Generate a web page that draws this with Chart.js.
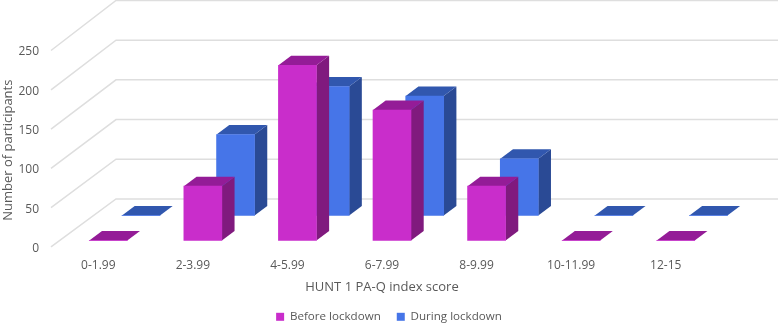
<!DOCTYPE html>
<html>
<head>
<meta charset="utf-8">
<title>HUNT 1 PA-Q</title>
<script src="https://cdn.jsdelivr.net/npm/chart.js@4"></script>
<style>
  html, body { margin: 0; padding: 0; background: #fff; }
  #wrap { width: 778px; height: 323px; }
</style>
</head>
<body>
<div id="wrap"><canvas id="myChart" width="778" height="323"></canvas></div>
<script>
const categories = ["0-1.99", "2-3.99", "4-5.99", "6-7.99", "8-9.99", "10-11.99", "12-15"];
const beforeLockdown = [0, 69, 223, 166, 69, 0, 0];
const duringLockdown = [0, 103, 164, 152, 72, 0, 0];

const textColor = "#595959";
const gridColor = "#dedede";

// how far each series sits back from the front of the floor, and the box depth
const floorDepth = { x: 65, yBottom: -49.5, yTop: -51.5 };
const boxDepth = { x: 12.7, y: -9.5 };
const seriesShift = [
  { x: 10, y: -8, top: "#941c97", side: "#801a7e" },
  { x: 42.7, y: -33, top: "#3157ae", side: "#2a4a95" }
];

function face(ctx, color, pts) {
  ctx.fillStyle = color;
  ctx.beginPath();
  pts.forEach((p, i) => (i ? ctx.lineTo(p[0], p[1]) : ctx.moveTo(p[0], p[1])));
  ctx.closePath();
  ctx.fill();
}

const perspective = {
  id: "perspective",
  afterLayout(chart) {
    // legend is centred on the whole page, not on the plot
    chart.legend.left = 0;
    chart.legend.right = chart.width;
    chart.legend.top = 295;
  },
  beforeDatasetsDraw(chart) {
    const { ctx, chartArea, scales } = chart;
    ctx.save();
    ctx.strokeStyle = gridColor;
    ctx.lineWidth = 1.5;
    scales.y.ticks.forEach((tick, i) => {
      const y = scales.y.getPixelForTick(i);
      const t = (chartArea.bottom - y) / chartArea.height;
      const backY = y + floorDepth.yBottom + (floorDepth.yTop - floorDepth.yBottom) * t;
      ctx.beginPath();
      ctx.moveTo(chartArea.left, y - 1.5);
      ctx.lineTo(chartArea.left + floorDepth.x, backY);
      ctx.lineTo(chartArea.right + floorDepth.x, backY);
      ctx.stroke();
    });
    ctx.restore();
  },
  beforeDatasetDraw(chart, args) {
    const ctx = chart.ctx;
    const s = seriesShift[args.index];
    ctx.save();
    ctx.translate(s.x, s.y);
    args.meta.data.forEach((bar) => {
      const l = bar.x - bar.width / 2;
      const r = bar.x + bar.width / 2;
      const d = boxDepth;
      face(ctx, s.side, [[r, bar.y], [r + d.x, bar.y + d.y], [r + d.x, bar.base + d.y], [r, bar.base]]);
      face(ctx, s.top, [[l, bar.y], [l + d.x, bar.y + d.y], [r + d.x, bar.y + d.y], [r, bar.y]]);
    });
  },
  afterDatasetDraw(chart) {
    chart.ctx.restore();
  }
};

new Chart(document.getElementById("myChart"), {
  type: "bar",
  data: {
    labels: categories,
    datasets: [
      { label: "Before lockdown", data: beforeLockdown, backgroundColor: "#c92dcb", clip: false },
      { label: "During lockdown", data: duringLockdown, backgroundColor: "#4675e8", clip: false }
    ]
  },
  options: {
    responsive: false,
    animation: false,
    layout: { padding: { top: 52, right: 65, bottom: -10, left: 0 } },
    datasets: { bar: { grouped: false, barThickness: 38 } },
    plugins: {
      tooltip: { enabled: false },
      legend: {
        position: "bottom",
        labels: {
          boxWidth: 8,
          boxHeight: 8,
          padding: 16,
          color: textColor,
          font: { family: "Open Sans", size: 11.6 }
        }
      }
    },
    scales: {
      x: {
        grid: { display: false, drawTicks: false },
        border: { display: false },
        ticks: { color: textColor, padding: 10, maxRotation: 0, font: { family: "Open Sans", size: 12 } },
        title: { display: true, text: "HUNT 1 PA-Q index score", color: textColor, padding: { top: 4, bottom: 0 }, font: { family: "Open Sans", size: 13 } },
        afterFit(scale) { scale.height = 47; }
      },
      y: {
        min: 0,
        max: 250,
        grid: { display: false, drawTicks: false },
        border: { display: false },
        ticks: { stepSize: 50, color: textColor, padding: 12, font: { family: "Open Sans", size: 12 } },
        title: { display: true, text: "Number of participants", color: textColor, padding: { top: 0, bottom: 0 }, font: { family: "Open Sans", size: 13 } },
        afterFit(scale) { scale.width = 51; }
      }
    }
  },
  plugins: [perspective]
});
</script>
</body>
</html>
